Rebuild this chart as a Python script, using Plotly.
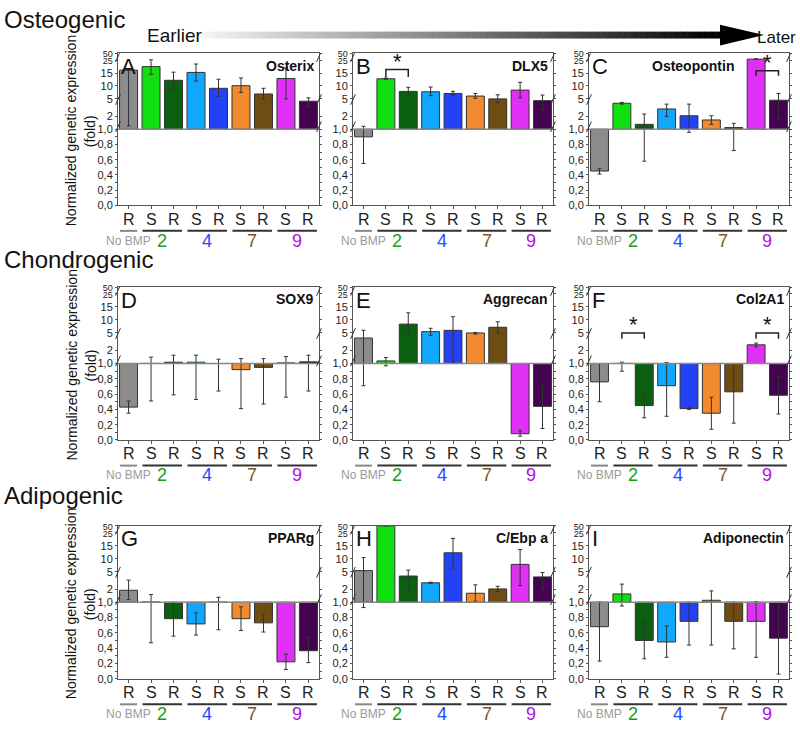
import numpy as np
import plotly.graph_objects as go

# ---------------- data ----------------
bar_labels = ["R", "S", "R", "S", "R", "S", "R", "S", "R"]
bar_colors = ["#8c8c8c", "#10e010", "#0a600f", "#10a8ff", "#2442f5",
              "#f28a30", "#6e4c12", "#e030f5", "#430350"]
group_names = ["No BMP", "2", "4", "7", "9"]
group_members = [[0], [1, 2], [3, 4], [5, 6], [7, 8]]
group_colors = ["#9a9a9a", "#12a012", "#2447ff", "#7a5520", "#b010e0"]

genes = ["Osterix", "DLX5", "Osteopontin", "SOX9", "Aggrecan", "Col2A1",
         "PPARg", "C/Ebp a", "Adiponectin"]
panel_letters = ["A", "B", "C", "D", "E", "F", "G", "H", "I"]
section_titles = ["Osteogenic", "Chondrogenic", "Adipogenic"]

osterix_val = [17.3, 20.0, 12.2, 15.5, 9.1, 10.1, 6.9, 12.9, 4.6]
osterix_lo = [1.26, 14.5, 9.0, 11.9, 5.9, 7.5, 5.0, 5.0, 3.7]
osterix_hi = [17.3, 26.2, 15.7, 22.0, 12.6, 13.1, 9.1, 19.0, 5.4]

dlx5_val = [0.90, 12.8, 7.9, 7.75, 7.1, 6.1, 5.0, 8.4, 4.7]
dlx5_lo = [0.55, 12.6, 6.5, 6.25, 6.5, 5.25, 4.4, 5.4, 3.15]
dlx5_hi = [1.23, 13.1, 9.5, 9.6, 7.9, 7.1, 6.6, 11.4, 6.5]

osteopontin_val = [0.45, 4.25, 1.38, 3.27, 2.1, 1.72, 1.13, 28.6, 4.77]
osteopontin_lo = [0.41, 4.1, 0.58, 2.0, 0.96, 1.38, 0.72, 27.5, 1.74]
osteopontin_hi = [0.48, 4.4, 2.4, 4.1, 4.1, 2.1, 1.46, 30.0, 7.1]

sox9_val = [0.43, 1.01, 1.1, 1.1, 1.0, 0.92, 0.95, 1.05, 1.13]
sox9_lo = [0.35, 0.51, 0.59, 0.53, 0.64, 0.41, 0.47, 0.56, 0.64]
sox9_hi = [0.51, 1.49, 1.64, 1.64, 1.33, 1.38, 1.38, 1.54, 1.64]

aggrecan_val = [4.13, 1.2, 8.4, 5.5, 6.0, 5.0, 7.2, 0.082, 0.44]
aggrecan_lo = [0.71, 0.97, 4.5, 4.6, 1.08, 4.8, 5.05, 0.05, 0.15]
aggrecan_hi = [6.0, 1.46, 12.75, 6.8, 11.25, 5.2, 9.3, 0.12, 0.73]

col2a1_val = [0.76, 1.01, 0.45, 0.71, 0.41, 0.35, 0.63, 2.98, 0.585]
col2a1_lo = [0.50, 0.90, 0.29, 0.31, 0.40, 0.14, 0.22, 2.63, 0.34]
col2a1_hi = [1.0, 1.1, 0.61, 1.07, 0.42, 0.56, 1.0, 3.27, 0.83]

pparg_val = [1.92, 1.01, 0.785, 0.716, 1.0, 0.785, 0.73, 0.22, 0.366]
pparg_lo = [1.2, 0.47, 0.556, 0.57, 0.64, 0.63, 0.61, 0.12, 0.21]
pparg_hi = [3.56, 1.59, 1.0, 0.86, 1.38, 0.94, 0.845, 0.32, 0.54]

cebpa_val = [5.4, 50.0, 4.25, 3.1, 12.25, 1.69, 2.05, 7.8, 4.1]
cebpa_lo = [0.93, 50.0, 1.77, 3.0, 6.4, 1.08, 1.82, 2.63, 2.0]
cebpa_hi = [10.4, 50.0, 5.6, 3.2, 20.6, 2.75, 2.5, 13.5, 4.85]

adiponectin_val = [0.68, 1.64, 0.50, 0.48, 0.75, 1.15, 0.75, 0.75, 0.53]
adiponectin_lo = [0.23, 0.95, 0.26, 0.28, 0.44, 0.44, 0.39, 0.28, 0.06]
adiponectin_hi = [1.03, 2.87, 0.75, 0.69, 1.0, 1.87, 1.0, 1.04, 1.0]

gene_vals = [osterix_val, dlx5_val, osteopontin_val, sox9_val, aggrecan_val,
             col2a1_val, pparg_val, cebpa_val, adiponectin_val]
gene_los = [osterix_lo, dlx5_lo, osteopontin_lo, sox9_lo, aggrecan_lo,
            col2a1_lo, pparg_lo, cebpa_lo, adiponectin_lo]
gene_his = [osterix_hi, dlx5_hi, osteopontin_hi, sox9_hi, aggrecan_hi,
            col2a1_hi, pparg_hi, cebpa_hi, adiponectin_hi]

# significance brackets
sig_panel = [1, 2, 5, 5]
sig_left = [1, 7, 1, 7]
sig_right = [2, 8, 2, 8]
sig_top = [17.75, 16.75, 5.0, 5.0]
sig_leg = [13.5, 14.0, 4.0, 4.0]

# broken axis definition (value -> fraction of axis height)
axis_values = [0, 1, 2, 5, 10, 15, 25, 50]
axis_fracs = [0, 0.5, 0.585, 0.70, 0.785, 0.87, 0.955, 1.0]
tick_values = [0, 0.2, 0.4, 0.6, 0.8, 1.0, 2, 5, 10, 15, 25, 50]
tick_text = ["0,0", "0,2", "0,4", "0,6", "0,8", "1,0", "2", "5", "10", "15",
             "<span style='font-size:9px'>25</span>", "<span style='font-size:9px'>50</span>"]
minor_values = [0.1, 0.3, 0.5, 0.7, 0.9]
break_values = [1.2, 4.9, 38]


def T(v):
    return np.interp(np.asarray(v, dtype=float), axis_values, axis_fracs)


# ---------------- layout geometry ----------------
W, H = 800, 733
col_px = [(118, 319), (353, 553), (589, 789)]
row_px = [(50, 204), (287, 442), (529, 684)]
FONT = "Liberation Sans, Arial, sans-serif"
gene_label_pos = [0.985, 0.985, 0.52, 0.985, 0.985, 0.985, 0.985, 0.985, 0.985]

fig = go.Figure()
shapes = []
annotations = []
base = float(T(1.0))
xs = list(range(len(bar_labels)))

for p in range(9):
    r, c = divmod(p, 3)
    n = p + 1
    xa = "x" if n == 1 else f"x{n}"
    ya = "y" if n == 1 else f"y{n}"
    xkey = "xaxis" if n == 1 else f"xaxis{n}"
    ykey = "yaxis" if n == 1 else f"yaxis{n}"
    v = np.array(gene_vals[p]); lo = np.array(gene_los[p]); hi = np.array(gene_his[p])
    tv = T(v)
    fig.add_trace(go.Bar(
        x=xs, y=tv - base, base=base, xaxis=xa, yaxis=ya,
        marker=dict(color=bar_colors, line=dict(color="#333333", width=1)),
        width=0.8,
        error_y=dict(type="data", symmetric=False, array=T(hi) - tv,
                     arrayminus=tv - T(lo), color="#333333", thickness=1, width=2),
        showlegend=False, hoverinfo="skip"))
    x0, x1 = col_px[c]; y0, y1 = row_px[r]
    ph = y1 - y0
    fig.update_layout({
        xkey: dict(domain=[x0 / W, x1 / W], range=[-0.47, 8.47], anchor=ya,
                   tickmode="array", tickvals=xs, showticklabels=False,
                   ticks="outside", ticklen=3, tickcolor="#555", showline=True,
                   linecolor="#555", linewidth=1, mirror=True, showgrid=False,
                   zeroline=False),
        ykey: dict(domain=[1 - y1 / H, 1 - y0 / H], range=[0, 1], anchor=xa,
                   tickmode="array", tickvals=T(tick_values), ticktext=tick_text,
                   ticks="outside", ticklen=2, tickcolor="#555", showline=True,
                   linecolor="#555", linewidth=1, mirror="ticks", showgrid=False,
                   zeroline=False, tickfont=dict(size=11, color="#222", family=FONT),
                   minor=dict(tickmode="array", tickvals=T(minor_values), ticks="outside",
                              ticklen=2, tickcolor="#555")),
    })
    # R / S labels
    for i, lab in enumerate(bar_labels):
        annotations.append(dict(x=i, y=-14 / ph, xref=xa, yref=f"{ya} domain", text=lab,
                                showarrow=False, xanchor="center", yanchor="middle",
                                font=dict(size=16, color="#222", family=FONT)))
    # baseline at 1.0
    shapes.append(dict(type="line", xref=f"{xa} domain", yref=ya, x0=0, x1=1,
                       y0=base, y1=base, line=dict(color="#888", width=1.5)))
    # break slashes on both axes
    for bv in break_values:
        yb = float(T(bv))
        for xd in (0, 1):
            shapes.append(dict(type="line", xref=f"{xa} domain", yref=ya,
                               x0=xd - 0.012, x1=xd + 0.012, y0=yb - 0.035, y1=yb + 0.035,
                               line=dict(color="#333", width=1)))
    # group underlines and labels
    for g, mem in enumerate(group_members):
        gx0 = mem[0] - 0.38; gx1 = mem[-1] + 0.38
        shapes.append(dict(type="line", xref=xa, yref=f"{ya} domain", x0=gx0, x1=gx1,
                           y0=-26 / ph, y1=-26 / ph,
                           line=dict(color="#888" if g == 0 else "#333", width=2)))
        annotations.append(dict(x=(mem[0] + mem[-1]) / 2, y=-36 / ph, xref=xa,
                                yref=f"{ya} domain", text=group_names[g], showarrow=False,
                                xanchor="center", yanchor="middle",
                                font=dict(size=12 if g == 0 else 18, color=group_colors[g],
                                          family=FONT)))
    # panel letter and gene name
    annotations.append(dict(x=0.005, y=1.01, xref=f"{xa} domain", yref=f"{ya} domain",
                            text=panel_letters[p], showarrow=False, xanchor="left",
                            yanchor="top", font=dict(size=22, color="#111", family=FONT)))
    gx = gene_label_pos[p]
    annotations.append(dict(x=gx, y=0.985, xref=f"{xa} domain", yref=f"{ya} domain",
                            text=f"<b>{genes[p]}</b>", showarrow=False,
                            xanchor="right" if gx > 0.9 else "center",
                            yanchor="top", font=dict(size=14, color="#111", family=FONT)))

# significance brackets
for k in range(len(sig_panel)):
    n = sig_panel[k] + 1
    xa = "x" if n == 1 else f"x{n}"
    ya = "y" if n == 1 else f"y{n}"
    yt = float(T(sig_top[k])); yl = float(T(sig_leg[k]))
    xl, xr = sig_left[k], sig_right[k]
    shapes.append(dict(type="path", xref=xa, yref=ya,
                       path=f"M {xl},{yl} L {xl},{yt} L {xr},{yt} L {xr},{yl}",
                       line=dict(color="#222", width=1.5)))
    annotations.append(dict(x=(xl + xr) / 2, y=yt, xref=xa, yref=ya, text="*",
                            showarrow=False, xanchor="center", yanchor="bottom", yshift=-6,
                            font=dict(size=22, color="#111", family=FONT)))

# section titles and y titles
sec_y = [16, 259, 498]
for r in range(3):
    annotations.append(dict(x=2 / W, y=1 - sec_y[r] / H, xref="paper", yref="paper",
                            text=section_titles[r], showarrow=False, xanchor="left",
                            yanchor="middle", font=dict(size=24, color="#111", family=FONT)))
    yc = 1 - ((row_px[r][0] + row_px[r][1]) / 2 + 2) / H
    annotations.append(dict(x=71 / W, y=yc, xref="paper", yref="paper",
                            text="Normalized genetic expression", textangle=-90,
                            xanchor="center", yanchor="middle",
                            showarrow=False, font=dict(size=14, color="#111", family=FONT)))
    annotations.append(dict(x=90 / W, y=yc, xref="paper", yref="paper",
                            text="(fold)", textangle=-90, xanchor="center", yanchor="middle",
                            showarrow=False, font=dict(size=14, color="#111", family=FONT)))

# time arrow (gradient)
ax0, ax1, ay0, ay1 = 200, 722, 28, 35
nseg = 90
for i in range(nseg):
    f = i / (nseg - 1)
    g = int(round(245 * (1 - f)))
    sx0 = ax0 + (ax1 - ax0) * i / nseg
    sx1 = ax0 + (ax1 - ax0) * (i + 1) / nseg + 0.5
    shapes.append(dict(type="rect", xref="paper", yref="paper",
                       x0=sx0 / W, x1=sx1 / W, y0=1 - ay1 / H, y1=1 - ay0 / H,
                       fillcolor=f"rgb({g},{g},{g})", line=dict(width=0), layer="above"))
shapes.append(dict(type="path", xref="paper", yref="paper",
                   path=f"M {720 / W},{1 - 21 / H} L {764 / W},{1 - 31.5 / H} L {720 / W},{1 - 42 / H} Z",
                   fillcolor="#000", line=dict(width=0)))
annotations.append(dict(x=145 / W, y=1 - 32 / H, xref="paper", yref="paper", text="Earlier",
                        showarrow=False, xanchor="left", yanchor="middle",
                        font=dict(size=19, color="#111", family=FONT)))
annotations.append(dict(x=798 / W, y=1 - 34 / H, xref="paper", yref="paper", text="Later",
                        showarrow=False, xanchor="right", yanchor="middle",
                        font=dict(size=17, color="#111", family=FONT)))

fig.update_layout(width=W, height=H, margin=dict(l=0, r=0, t=0, b=0),
                  paper_bgcolor="white", plot_bgcolor="white", bargap=0.2,
                  shapes=shapes, annotations=annotations, font=dict(family=FONT))
fig.write_html("out.html", config={"displayModeBar": False},
               post_script="document.body.style.margin='0';document.body.style.overflow='hidden';")
